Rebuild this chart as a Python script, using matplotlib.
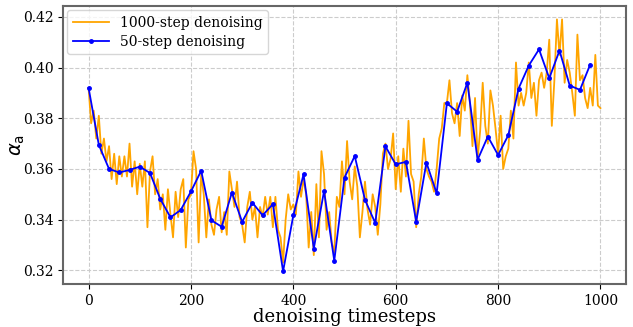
import numpy as np
import matplotlib
matplotlib.use('Agg')
import matplotlib.pyplot as plt

plt.rcParams['font.family'] = ['DejaVu Serif']
plt.rcParams['mathtext.fontset'] = 'dejavusans'

# 1000-step denoising (read every 5 steps)
steps_1000 = np.arange(0, 1001, 5)
alpha_1000 = [
    0.392, 0.378, 0.383, 0.372, 0.381, 0.366, 0.372, 0.363, 0.369, 0.356,
    0.366, 0.354, 0.365, 0.357, 0.365, 0.357, 0.370, 0.353, 0.363, 0.350,
    0.362, 0.353, 0.363, 0.337, 0.359, 0.365, 0.350, 0.356, 0.344, 0.350,
    0.336, 0.352, 0.342, 0.333, 0.351, 0.341, 0.352, 0.356, 0.329, 0.348,
    0.350, 0.367, 0.360, 0.331, 0.358, 0.350, 0.333, 0.348, 0.338, 0.334,
    0.344, 0.349, 0.335, 0.343, 0.334, 0.359, 0.352, 0.345, 0.355, 0.341,
    0.338, 0.331, 0.345, 0.351, 0.340, 0.345, 0.333, 0.345, 0.341, 0.349,
    0.342, 0.349, 0.337, 0.349, 0.336, 0.333, 0.323, 0.340, 0.350, 0.344,
    0.346, 0.342, 0.359, 0.349, 0.356, 0.350, 0.329, 0.343, 0.326, 0.354,
    0.333, 0.367, 0.358, 0.336, 0.343, 0.331, 0.327, 0.349, 0.345, 0.363,
    0.350, 0.371, 0.355, 0.348, 0.361, 0.353, 0.333, 0.343, 0.355, 0.344,
    0.338, 0.350, 0.345, 0.334, 0.346, 0.366, 0.370, 0.360, 0.364, 0.374,
    0.352, 0.365, 0.351, 0.368, 0.357, 0.379, 0.358, 0.355, 0.337, 0.350,
    0.357, 0.372, 0.360, 0.357, 0.355, 0.351, 0.360, 0.372, 0.376, 0.386,
    0.386, 0.395, 0.382, 0.378, 0.386, 0.373, 0.389, 0.383, 0.397, 0.386,
    0.369, 0.388, 0.364, 0.375, 0.394, 0.377, 0.370, 0.391, 0.385, 0.376,
    0.366, 0.381, 0.360, 0.365, 0.368, 0.383, 0.372, 0.402, 0.385, 0.390,
    0.385, 0.390, 0.402, 0.388, 0.394, 0.381, 0.395, 0.398, 0.392, 0.398,
    0.411, 0.377, 0.395, 0.419, 0.405, 0.419, 0.394, 0.403, 0.398, 0.390,
    0.381, 0.413, 0.395, 0.397, 0.388, 0.384, 0.392, 0.385, 0.405, 0.385,
    0.384,
]

# 50-step denoising
steps_50 = np.arange(0, 1000, 20)
alpha_50 = [
    0.392, 0.3695, 0.360, 0.3586, 0.3596, 0.3609, 0.3584, 0.3482, 0.3409, 0.3438,
    0.3511, 0.3593, 0.3397, 0.3372, 0.3507, 0.3391, 0.3467, 0.3417, 0.3461, 0.3196,
    0.3417, 0.3579, 0.3286, 0.3513, 0.3238, 0.3566, 0.3651, 0.3478, 0.3387, 0.3689,
    0.3618, 0.3628, 0.3392, 0.3625, 0.3504, 0.3859, 0.3826, 0.394, 0.3636, 0.3728,
    0.3655, 0.3733, 0.3917, 0.4008, 0.4072, 0.3958, 0.4067, 0.3929, 0.3912, 0.4012,
]

fig = plt.figure(figsize=(6.33, 3.27), dpi=100)
ax = fig.add_axes([0.0995, 0.1315, 0.8895, 0.8502])

ax.plot(steps_1000, alpha_1000, color='orange', lw=1.3, label='1000-step denoising')
ax.plot(steps_50, alpha_50, color='blue', lw=1.3, marker='o', markersize=2.5,
        label='50-step denoising')

ax.set_ylim(0.3146, 0.4243)
ax.set_xticks([0, 200, 400, 600, 800, 1000])
ax.set_yticks([0.32, 0.34, 0.36, 0.38, 0.40, 0.42])
ax.grid(True, linestyle='--', color='#cccccc', lw=0.8)
ax.tick_params(labelsize=10)
for s in ax.spines.values():
    s.set_color('#666666')
    s.set_linewidth(1.5)

ax.set_xlabel('denoising timesteps', fontsize=13, labelpad=0)
ax.set_ylabel(r'$\alpha_{\mathrm{a}}$', fontsize=14, labelpad=-3)
ax.legend(loc='upper left', fontsize=10, handlelength=2.6,
          borderpad=0.4, labelspacing=0.35, borderaxespad=0.3)

fig.savefig('out.png', dpi=100)
